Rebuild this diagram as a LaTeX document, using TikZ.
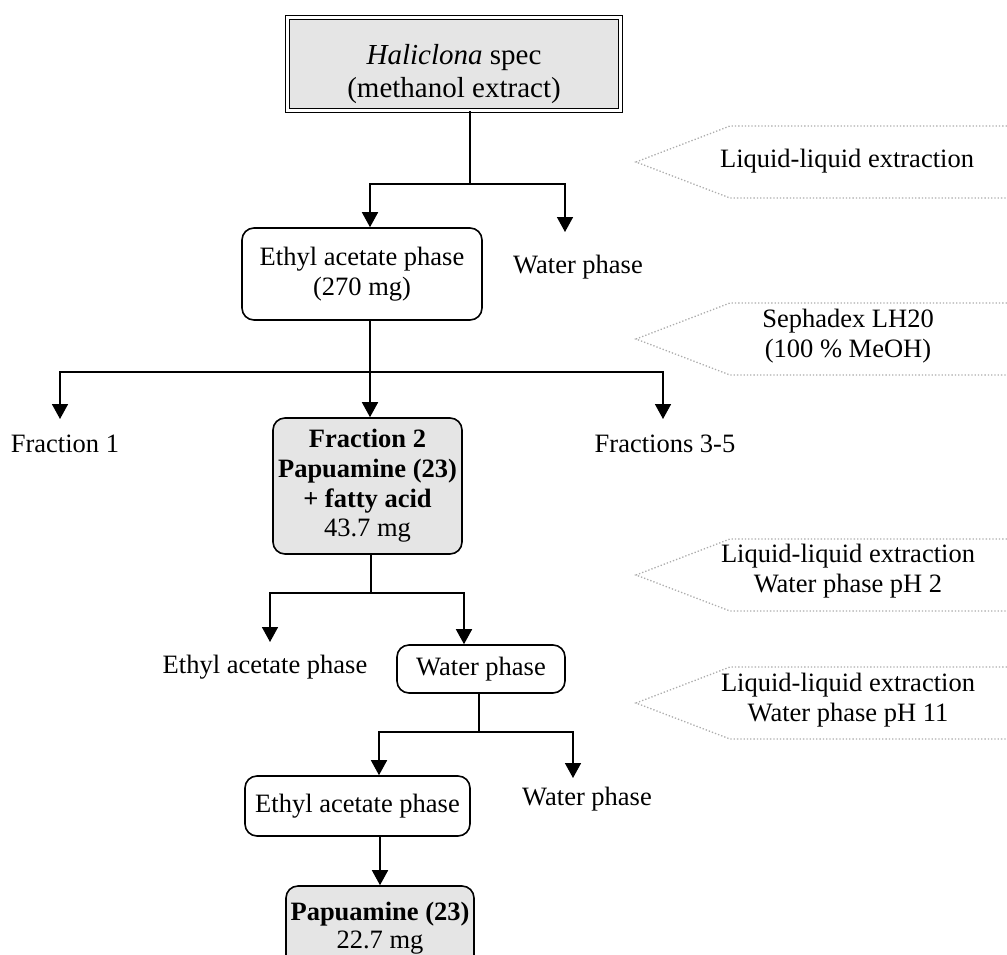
\documentclass[tikz,border=0pt]{standalone}
\usepackage{fontspec}
\setmainfont{Liberation Serif}
\usetikzlibrary{arrows.meta}
\definecolor{boxgray}{gray}{0.9}
\begin{document}
\begin{tikzpicture}[x=1pt,y=-1pt,
  every node/.style={font=\fontsize{26.5}{30}\selectfont, inner sep=0pt},
  conn/.style={line width=1.6pt},
  arr/.style={conn, -{Triangle[width=16pt,length=15pt]}},
  rbox/.style={draw, line width=1.6pt, rounded corners=12pt, align=center},
  gbox/.style={rbox, fill=boxgray},
  cue/.style={draw=gray!65, dotted, line width=1.3pt},
  lab/.style={align=center}
]
\useasboundingbox (0,0) rectangle (1007,954);

% source extract
\node[draw, double, double distance=2.2pt, line width=1.1pt, fill=boxgray,
      minimum width=333pt, minimum height=93pt] (src) at (454,64) {};
\node[lab, font=\fontsize{29}{33}\selectfont] (srcT) at (454,74.5)
     {\textit{Haliclona} spec\\(methanol extract)};

% boxes
\node[rbox, minimum width=240pt, minimum height=92pt] (eth1) at (362,274)
     {Ethyl acetate phase\\(270 mg)};
\node[gbox, minimum width=189pt, minimum height=136pt,
      font=\fontsize{26.5}{29.7}\selectfont] (fr2) at (367.5,486)
     {\textbf{Fraction 2}\\\textbf{Papuamine (23)}\\\textbf{+ fatty acid}\\43.7 mg};
\node[rbox, minimum width=168pt, minimum height=48pt] (wat2) at (481,669) {Water phase};
\node[rbox, minimum width=225pt, minimum height=60pt] (eth3) at (357.5,806) {Ethyl acetate phase};
\node[gbox, minimum width=188pt, minimum height=84pt,
      font=\fontsize{26.5}{28}\selectfont] (pap) at (380,928)
     {\textbf{Papuamine (23)}\\22.7 mg};

% plain labels
\node[anchor=base] (wat1) at (578,273) {Water phase};
\node[anchor=base] (fr1) at (65,452) {Fraction 1};
\node[anchor=base] (fr35) at (665,452) {Fractions 3-5};
\node[anchor=base] (eth2) at (265,673) {Ethyl acetate phase};
\node[anchor=base] (wat3) at (587,805) {Water phase};

% branch points and arrow ends
\coordinate (s1) at (470,184);
\coordinate (c1) at (370,0);
\coordinate (t1) at (565,232);
\coordinate (s2) at (370,372);
\coordinate (t2a) at (60,419);
\coordinate (t2c) at (663,419);
\coordinate (s3) at (371,593);
\coordinate (t3a) at (270,642);
\coordinate (c3) at (464,0);
\coordinate (s4) at (479,732);
\coordinate (c4) at (379,0);
\coordinate (t4) at (573,778);

% connectors
\draw[conn] (src.south -| s1) -- (s1);
\draw[arr] (s1) -| (eth1.north -| c1);
\draw[arr] (s1) -| (t1);

\draw[conn] (eth1.south -| s2) -- (s2);
\draw[arr] (s2) -| (t2a);
\draw[arr] (s2) -| (t2c);
\draw[arr] (s2) -- (fr2.north -| s2);

\draw[conn] (fr2.south -| s3) -- (s3);
\draw[arr] (s3) -| (t3a);
\draw[arr] (s3) -| (wat2.north -| c3);

\draw[conn] (wat2.south -| s4) -- (s4);
\draw[arr] (s4) -| (eth3.north -| c4);
\draw[arr] (s4) -| (t4);

\draw[arr] (eth3.south -| pap.north) -- (pap.north);

% method cues
\draw[cue] (1020,126) -- (730,126) -- (636,162) -- (730,198) -- (1020,198);
\node[anchor=base] (m1) at (847,167) {Liquid-liquid extraction};

\draw[cue] (1020,303) -- (730,303) -- (636,339) -- (730,375) -- (1020,375);
\node[lab] (m2) at (848,336) {Sephadex LH20\\(100 \% MeOH)};

\draw[cue] (1020,539) -- (730,539) -- (636,575) -- (730,611) -- (1020,611);
\node[lab] (m3) at (848,571.5) {Liquid-liquid extraction\\Water phase pH 2};

\draw[cue] (1020,667) -- (730,667) -- (636,703) -- (730,739) -- (1020,739);
\node[lab] (m4) at (848,700.5) {Liquid-liquid extraction\\Water phase pH 11};
\end{tikzpicture}
\end{document}
